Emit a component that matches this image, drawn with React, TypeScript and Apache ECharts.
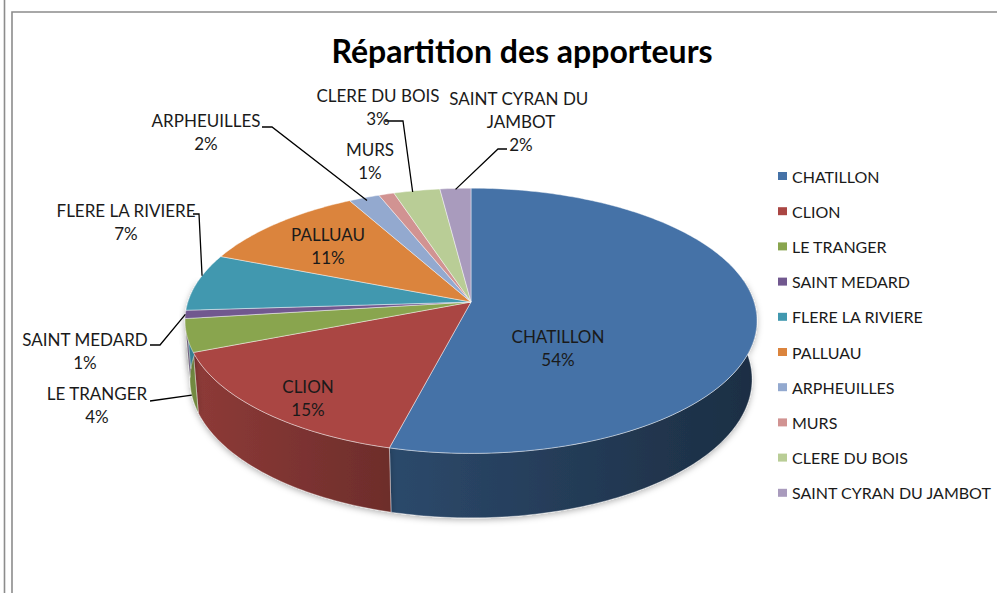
import React, { useEffect, useRef } from 'react';
import * as echarts from 'echarts';

// ---- data ----
const categories = [
  'CHATILLON',
  'CLION',
  'LE TRANGER',
  'SAINT MEDARD',
  'FLERE LA RIVIERE',
  'PALLUAU',
  'ARPHEUILLES',
  'MURS',
  'CLERE DU BOIS',
  'SAINT CYRAN DU JAMBOT',
];
const shares = [54, 15, 4, 1, 7, 11, 2, 1, 3, 2];
const chartTitle = 'Répartition des apporteurs';

// ---- styles / layout (not data) ----
const palette = ['#4572A7', '#AA4643', '#89A54E', '#71588F', '#4198AF', '#DB843D', '#93A9CF', '#D19392', '#B9CD96', '#A99BBD'];

// label placement (pixel layout of annotations), anchor = point on slice: t = fraction within slice, r = radius, h = fraction of wall height
const labelLayout: any[] = [
  { x: 558, y: 348 },
  { x: 308, y: 398 },
  { x: 97, y: 405, anchor: { t: 0.5, r: 1, h: 1 }, leader: [[150, 401]] },
  { x: 85, y: 351, anchor: { t: 0.5, r: 1, h: 0 }, leader: [[160, 345], [150, 345]] },
  { x: 126, y: 222, anchor: { t: 0.62, r: 1, h: 0 }, leader: [[199, 214], [193, 214]] },
  { x: 328, y: 246 },
  { x: 206, y: 132, anchor: { t: 0.5, r: 0.97, h: 0 }, leader: [[272, 127], [262, 127]] },
  { x: 370, y: 161 },
  { x: 378, y: 107, anchor: { t: 0.4, r: 0.99, h: 0 }, leader: [[403, 121], [385, 121]] },
  { x: 521, y: 121, width: 150, anchor: { t: 0.5, r: 0.99, h: 0 }, leader: [[498, 149], [507, 149]] },
];

// projection of the 3D disc
const CX = 471;
const CY = 302;
const F = 1775;
const D = 6.27;
const CA = 0.888;
const SA = 0.459;
const H = 0.235;

function project(theta: number, r: number, h: number): number[] {
  const X = r * Math.sin(theta);
  const Z = -r * Math.cos(theta);
  const depth = D - Z * CA - h * SA;
  return [CX + (F * X) / depth, CY + (F * (Z * SA - h * CA)) / depth];
}

function shade(hex: string, k: number): string {
  const n = parseInt(hex.slice(1), 16);
  const r = Math.round(((n >> 16) & 255) * k);
  const g = Math.round(((n >> 8) & 255) * k);
  const b = Math.round((n & 255) * k);
  return `rgb(${r},${g},${b})`;
}

const FONT = 'Lato, "Open Sans", sans-serif';
const DEG = Math.PI / 180;

function renderSlice(params: any, api: any) {
  const i = params.dataIndex;
  const total = shares.reduce((a, b) => a + b, 0);
  let before = 0;
  for (let k = 0; k < i; k++) before += shares[k];
  const v = api.value(0);
  const t0 = (before / total) * 2 * Math.PI;
  const t1 = ((before + v) / total) * 2 * Math.PI;
  const base = palette[i];
  const children: any[] = [];

  // top face
  const n = Math.max(2, Math.ceil((t1 - t0) / DEG));
  const top: number[][] = [project(0, 0, 0)];
  for (let k = 0; k <= n; k++) top.push(project(t0 + ((t1 - t0) * k) / n, 1, 0));
  children.push({
    type: 'polygon',
    shape: { points: top },
    style: { fill: base, stroke: 'rgba(255,255,255,0.55)', lineWidth: 0.8 },
    z2: 20,
  });

  // outer wall (front part only)
  const wa = Math.max(t0, 80 * DEG);
  const wb = Math.min(t1, 280 * DEG);
  if (wb > wa) {
    const m = Math.max(2, Math.ceil((wb - wa) / DEG));
    const upper: number[][] = [];
    const lower: number[][] = [];
    for (let k = 0; k <= m; k++) {
      const th = wa + ((wb - wa) * k) / m;
      upper.push(project(th, 1, 0));
      lower.push(project(th, 1, -H));
    }
    children.push({
      type: 'polygon',
      shape: { points: upper.concat(lower.reverse()) },
      style: {
        fill: {
          type: 'linear',
          x: 185,
          y: 0,
          x2: 757,
          y2: 0,
          global: true,
          colorStops: [
            { offset: 0, color: shade(base, 0.84) },
            { offset: 0.36, color: shade(base, 0.64) },
            { offset: 1, color: shade(base, 0.4) },
          ],
        },
        stroke: 'rgba(255,255,255,0.45)',
        lineWidth: 0.8,
        shadowBlur: 6,
        shadowOffsetY: 2,
        shadowColor: 'rgba(0,0,0,0.3)',
      },
      z2: 10,
    });
  }

  // label
  const lay = labelLayout[i];
  const pct = Math.round((v / total) * 100) + '%';
  children.push({
    type: 'text',
    x: lay.x,
    y: lay.y,
    style: {
      text: categories[i] + '\n' + pct,
      fill: '#1a1a1a',
      fontFamily: FONT,
      fontSize: 17,
      lineHeight: 23,
      align: 'center',
      verticalAlign: 'middle',
      width: lay.width,
      overflow: lay.width ? 'break' : undefined,
    },
    z2: 40,
  });
  if (lay.anchor) {
    const th = t0 + (t1 - t0) * lay.anchor.t;
    const a = project(th, lay.anchor.r, -H * lay.anchor.h);
    children.push({
      type: 'polyline',
      shape: { points: [a].concat(lay.leader) },
      style: { stroke: '#000', lineWidth: 1.3, fill: null },
      z2: 30,
    });
  }
  return { type: 'group', children };
}

export default function App() {
  const ref = useRef<HTMLDivElement>(null);
  useEffect(() => {
    if (!ref.current) return;
    const chart = echarts.init(ref.current, undefined, { renderer: 'svg' });
    chart.setOption({
      animation: false,
      backgroundColor: '#ffffff',
      color: palette,
      title: {
        text: chartTitle,
        left: 517,
        top: 29,
        textAlign: 'center',
        textStyle: { fontFamily: FONT, fontWeight: 'bold', fontSize: 32, color: '#000' },
      },
      legend: {
        data: categories,
        orient: 'vertical',
        left: 773,
        top: 163,
        icon: 'rect',
        itemWidth: 9,
        itemHeight: 8,
        itemGap: 19.2,
        textStyle: { fontFamily: FONT, fontSize: 16, lineHeight: 16, color: '#1a1a1a' },
        selectedMode: false,
      },
      graphic: [
        { type: 'line', shape: { x1: 4.5, y1: 0, x2: 4.5, y2: 593 }, style: { stroke: '#8c8c8c', lineWidth: 1.6 } },
        { type: 'rect', shape: { x: 12, y: 12, width: 1200, height: 1000 }, style: { fill: null, stroke: '#8c8c8c', lineWidth: 1.6 } },
      ],
      series: [
        {
          type: 'custom',
          coordinateSystem: 'none',
          silent: true,
          data: shares,
          renderItem: renderSlice,
        },
        {
          type: 'pie',
          name: 'legend',
          center: [-2000, -2000],
          radius: [0, 5],
          silent: true,
          label: { show: false },
          labelLine: { show: false },
          data: categories.map((c, i) => ({ name: c, value: shares[i] })),
        },
      ],
    });
    return () => chart.dispose();
  }, []);
  return <div ref={ref} style={{ position: 'fixed', left: 0, top: 0, width: 997, height: 593 }} />;
}
